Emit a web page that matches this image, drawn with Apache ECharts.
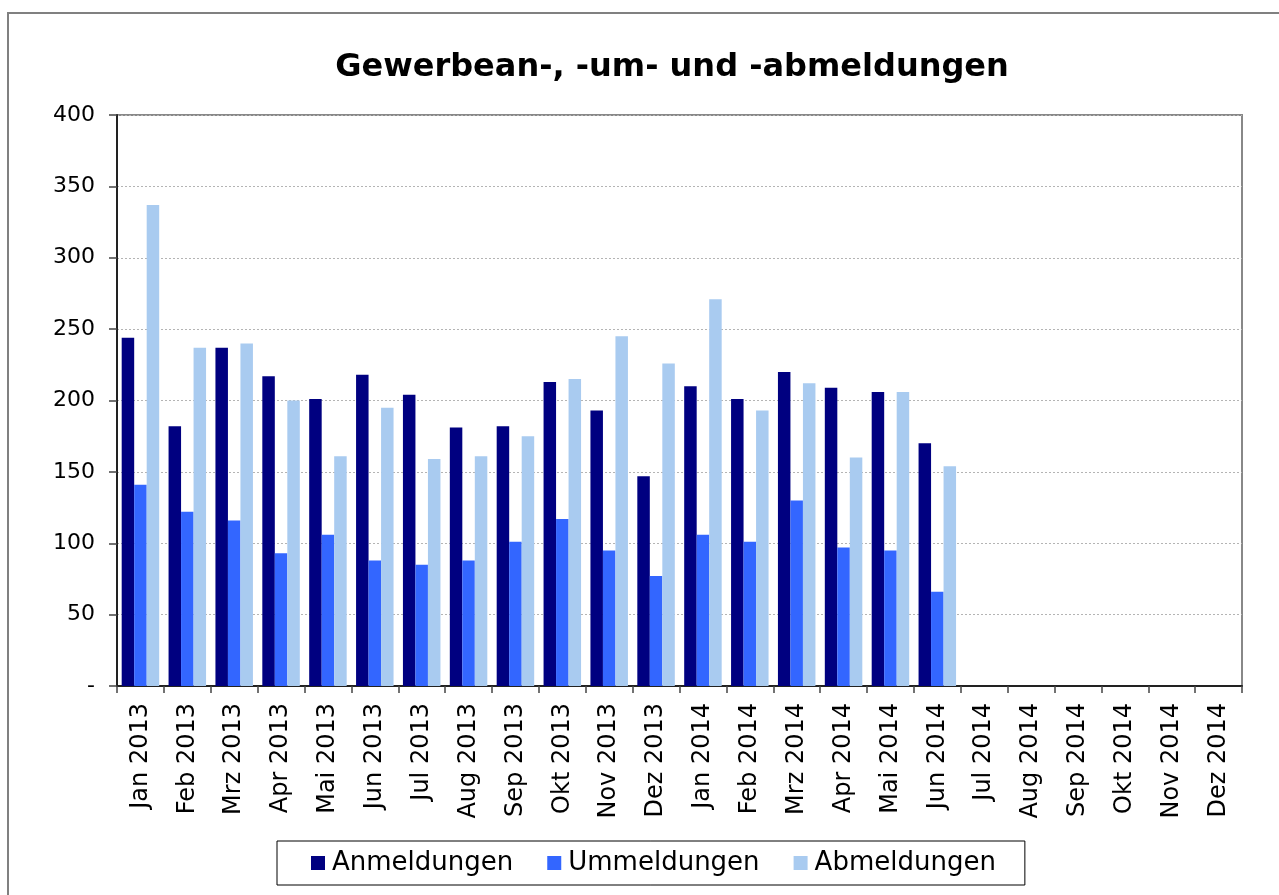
<!DOCTYPE html>
<html lang="de">
<head>
    <meta charset="UTF-8">
    <title>Gewerbean-, -um- und -abmeldungen</title>
    <script src="https://cdn.jsdelivr.net/npm/echarts@6/dist/echarts.min.js"></script>
    <style>
        html, body { margin: 0; padding: 0; background: #fff; }
        #charts { width: 1279px; height: 895px; }
    </style>
</head>
<body>
    <div id="charts"></div>
    <script type="text/javascript">
        // Monate
        var months = [
            'Jan 2013', 'Feb 2013', 'Mrz 2013', 'Apr 2013', 'Mai 2013', 'Jun 2013',
            'Jul 2013', 'Aug 2013', 'Sep 2013', 'Okt 2013', 'Nov 2013', 'Dez 2013',
            'Jan 2014', 'Feb 2014', 'Mrz 2014', 'Apr 2014', 'Mai 2014', 'Jun 2014',
            'Jul 2014', 'Aug 2014', 'Sep 2014', 'Okt 2014', 'Nov 2014', 'Dez 2014'
        ];
        var anmeldungen = [244, 182, 237, 217, 201, 218, 204, 181, 182, 213, 193, 147,
                           210, 201, 220, 209, 206, 170, null, null, null, null, null, null];
        var ummeldungen = [141, 122, 116, 93, 106, 88, 85, 88, 101, 117, 95, 77,
                           106, 101, 130, 97, 95, 66, null, null, null, null, null, null];
        var abmeldungen = [337, 237, 240, 200, 161, 195, 159, 161, 175, 215, 245, 226,
                           271, 193, 212, 160, 206, 154, null, null, null, null, null, null];
        var yTicks = [0, 50, 100, 150, 200, 250, 300, 350, 400];

        var font = 'DejaVu Sans';
        var myChart = echarts.init(document.getElementById('charts'));
        var option = {
            backgroundColor: '#fff',
            animation: false,
            textStyle: { fontFamily: font, color: '#000' },
            graphic: [{
                type: 'rect',
                shape: { x: 8, y: 13, width: 1300, height: 900 },
                style: { fill: 'none', stroke: '#808080', lineWidth: 2 }
            }],
            title: {
                text: 'Gewerbean-, -um- und -abmeldungen',
                left: 667,
                top: 47,
                textAlign: 'center',
                textStyle: { fontFamily: font, fontSize: 32, fontWeight: 'bold', color: '#000' }
            },
            legend: {
                left: 277,
                top: 841,
                padding: [9, 29, 9, 34],
                itemGap: 34,
                itemWidth: 14,
                itemHeight: 14,
                icon: 'rect',
                borderColor: '#000',
                borderWidth: 1,
                textStyle: { fontFamily: font, fontSize: 26, color: '#000', padding: [0, 0, 0, 2] },
                data: ['Anmeldungen', 'Ummeldungen', 'Abmeldungen']
            },
            grid: {
                left: 117,
                right: 37,
                top: 115,
                bottom: 209,
                show: true,
                borderColor: '#888',
                borderWidth: 2,
                containLabel: false
            },
            xAxis: {
                type: 'category',
                data: months,
                axisLine: { lineStyle: { color: '#222', width: 2 } },
                axisTick: { show: true, length: 7, lineStyle: { color: '#444', width: 1.5 } },
                axisLabel: {
                    interval: 0,
                    rotate: 90,
                    margin: 17,
                    fontFamily: font,
                    fontSize: 24,
                    color: '#000'
                }
            },
            yAxis: {
                type: 'value',
                min: yTicks[0],
                max: yTicks[yTicks.length - 1],
                interval: 50,
                axisLine: { show: true, lineStyle: { color: '#222', width: 2 } },
                axisTick: { show: true, length: 8, lineStyle: { color: '#444', width: 1.5 } },
                axisLabel: {
                    margin: 22,
                    fontFamily: font,
                    fontSize: 22,
                    color: '#000',
                    formatter: function (v) { return v === 0 ? '-' : String(v); }
                },
                splitLine: { lineStyle: { color: '#b4b4b4', type: [2, 2], width: 1 } }
            },
            series: [
                {
                    name: 'Anmeldungen',
                    type: 'bar',
                    data: anmeldungen,
                    barGap: '0%',
                    barCategoryGap: '20%',
                    itemStyle: { color: '#000080' }
                },
                {
                    name: 'Ummeldungen',
                    type: 'bar',
                    data: ummeldungen,
                    barGap: '0%',
                    barCategoryGap: '20%',
                    itemStyle: { color: '#3366ff' }
                },
                {
                    name: 'Abmeldungen',
                    type: 'bar',
                    data: abmeldungen,
                    barGap: '0%',
                    barCategoryGap: '20%',
                    itemStyle: { color: '#a9cbf0' }
                }
            ]
        };
        myChart.setOption(option);
    </script>
</body>
</html>
